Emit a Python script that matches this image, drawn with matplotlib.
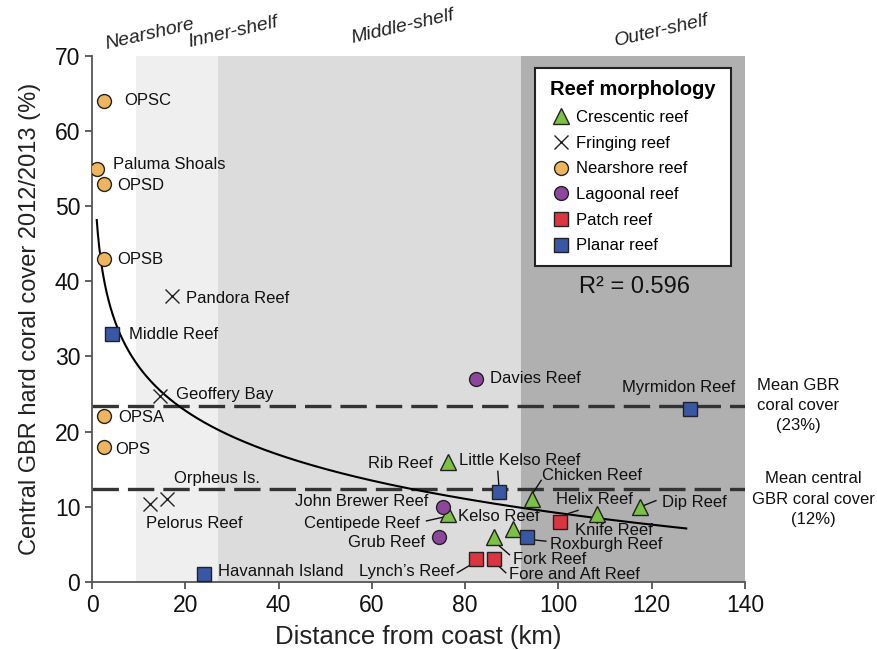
import numpy as np
import matplotlib
matplotlib.use("Agg")
import matplotlib.pyplot as plt

plt.rcParams['font.family'] = ['Liberation Sans', 'DejaVu Sans']
plt.rcParams['lines.scale_dashes'] = False

# ---------------- data ----------------
nearshore_names = ["OPSC", "Paluma Shoals", "OPSD", "OPSB", "OPSA", "OPS"]
nearshore_x = [2.6, 1.1, 2.6, 2.6, 2.6, 2.6]
nearshore_y = [64, 55, 53, 43, 22, 18]

fringing_names = ["Pandora Reef", "Geoffery Bay", "Pelorus Reef", "Orpheus Is."]
fringing_x = [17.1, 14.5, 12.5, 16.1]
fringing_y = [38, 24.7, 10.3, 11.0]

planar_names = ["Middle Reef", "Havannah Island", "Little Kelso Reef", "Roxburgh Reef", "Myrmidon Reef"]
planar_x = [4.2, 24.0, 87.2, 93.2, 128.3]
planar_y = [33, 1, 12, 6, 23]

lagoonal_names = ["Davies Reef", "John Brewer Reef", "Grub Reef"]
lagoonal_x = [82.3, 75.2, 74.3]
lagoonal_y = [27, 10, 6]

crescentic_names = ["Rib Reef", "Chicken Reef", "Centipede Reef", "Kelso Reef", "Fork Reef", "Knife Reef", "Dip Reef"]
crescentic_x = [76.3, 94.3, 76.4, 90.3, 86.2, 108.3, 117.4]
crescentic_y = [16, 11, 9, 7, 6, 9, 10]

patch_names = ["Lynch\u2019s Reef", "Fore and Aft Reef", "Helix Reef"]
patch_x = [82.3, 86.2, 100.3]
patch_y = [3, 3, 8]

mean_gbr = 23.4
mean_central = 12.3
r2_text = "R\u00b2 = 0.596"

# logarithmic trend line y = a + b*ln(x), coefficients
trend_a = 48.15
trend_b = -8.47
trend_xmin, trend_xmax = 1.0, 127.4

zone_names = ["Nearshore", "Inner-shelf", "Middle-shelf", "Outer-shelf"]
zone_edges = [0, 9.5, 27, 92, 140]
zone_colors = ["#ffffff", "#efefef", "#dcdcdc", "#b0b0b0"]
zone_label_x = [12.3, 30.3, 66.6, 122.2]
zone_label_y = [72.9, 73.2, 73.9, 73.4]

# ---------------- figure ----------------
fig = plt.figure(figsize=(8.77, 6.5), dpi=100)
ax = fig.add_axes([0.105, 0.105, 0.7445, 0.809])
ax.set_xlim(0, 140)
ax.set_ylim(0, 70)

for i in range(4):
    ax.axvspan(zone_edges[i], zone_edges[i + 1], color=zone_colors[i], zorder=0, lw=0)

dash_kw = dict(color="#333333", lw=2.4, dashes=(19, 6.5), zorder=2)
ax.axhline(mean_gbr, **dash_kw)
ax.axhline(mean_central, **dash_kw)

xx = np.geomspace(trend_xmin, trend_xmax, 400)
ax.plot(xx, trend_a + trend_b * np.log(xx), color="black", lw=1.5, zorder=3)

ms = 10
edge = "#222222"
ax.plot(crescentic_x, crescentic_y, ls="none", marker="^", ms=ms + 1, mfc="#7dc143", mec=edge, mew=1.0, zorder=5, label="Crescentic reef")
ax.plot(fringing_x, fringing_y, ls="none", marker="x", ms=ms, mec="#222222", mew=1.0, zorder=5, label="Fringing reef")
ax.plot(nearshore_x, nearshore_y, ls="none", marker="o", ms=ms, mfc="#efb55a", mec=edge, mew=1.0, zorder=5, label="Nearshore reef")
ax.plot(lagoonal_x, lagoonal_y, ls="none", marker="o", ms=ms, mfc="#8c479c", mec=edge, mew=1.0, zorder=5, label="Lagoonal reef")
ax.plot(patch_x, patch_y, ls="none", marker="s", ms=ms - 0.5, mfc="#dc3440", mec=edge, mew=1.0, zorder=5, label="Patch reef")
ax.plot(planar_x, planar_y, ls="none", marker="s", ms=ms - 0.5, mfc="#3a57a6", mec=edge, mew=1.0, zorder=5, label="Planar reef")

fs = 12
def lab(t, x, y, ha="left"):
    ax.text(x, y, t, fontsize=fs, ha=ha, va="center", color="#111111", zorder=6)

lab("OPSC", 6.8, 64.1)
lab("Paluma Shoals", 4.5, 55.5)
lab("OPSD", 5.4, 52.7)
lab("OPSB", 5.4, 42.9)
lab("Pandora Reef", 20.2, 37.7)
lab("Middle Reef", 7.9, 32.9)
lab("Geoffery Bay", 17.9, 24.9)
lab("OPSA", 5.6, 21.9)
lab("OPS", 5.0, 17.6)
lab("Orpheus Is.", 17.5, 13.8)
lab("Pelorus Reef", 11.5, 7.8)
lab("Havannah Island", 26.9, 1.3)
lab("Davies Reef", 85.4, 27.0)
lab("Myrmidon Reef", 113.7, 25.9)
lab("Rib Reef", 73.1, 15.7, ha="right")
lab("Little Kelso Reef", 78.7, 16.2)
lab("Chicken Reef", 96.5, 14.1)
lab("John Brewer Reef", 72.0, 10.7, ha="right")
lab("Centipede Reef", 70.2, 7.8, ha="right")
lab("Grub Reef", 71.3, 5.2, ha="right")
lab("Kelso Reef", 78.5, 8.7)
lab("Helix Reef", 99.4, 10.9)
lab("Dip Reef", 122.1, 10.5)
lab("Knife Reef", 103.5, 6.8)
lab("Roxburgh Reef", 98.1, 5.0)
lab("Fork Reef", 90.2, 3.0)
lab("Fore and Aft Reef", 89.5, 1.0)
lab("Lynch\u2019s Reef", 77.7, 1.3, ha="right")

# leader lines (label -> marker)
leaders = [
    ((87.0, 14.7), (87.2, 12.9)),   # Little Kelso
    ((96.3, 13.5), (94.4, 11.7)),   # Chicken
    ((71.7, 8.1), (75.3, 8.6)),     # Centipede
    ((86.7, 5.1), (89.5, 3.6)),     # Fork
    ((94.3, 5.6), (97.3, 5.4)),     # Roxburgh
    ((78.3, 1.2), (81.3, 2.3)),     # Lynch's
    ((87.0, 2.2), (88.7, 1.2)),     # Fore and Aft
    ((102.2, 9.1), (104.2, 9.5)),   # Helix
    ((118.1, 10.1), (120.9, 10.8)), # Dip
]
for (x0, y0), (x1, y1) in leaders:
    ax.plot([x0, x1], [y0, y1], color="#111111", lw=1.0, zorder=4)

ax.text(116.3, 39.3, r2_text, fontsize=17, ha="center", va="center", color="#111111", zorder=6)

for t, x, y in zip(zone_names, zone_label_x, zone_label_y):
    ax.text(x, y, t, fontsize=14, style="italic", rotation=13, ha="center", va="center",
            color="#222222", clip_on=False)

fig.text(798 / 877, 1 - 405.5 / 650, "Mean GBR\ncoral cover\n(23%)", fontsize=12, ha="center", va="center",
         linespacing=1.45, color="#111111")
fig.text(813 / 877, 1 - 499 / 650, "Mean central\nGBR coral cover\n(12%)", fontsize=12, ha="center", va="center",
         linespacing=1.45, color="#111111")

leg = ax.legend(loc="upper left", bbox_to_anchor=(0.679, 0.977, 0.299, 0.0), mode="expand",
                borderaxespad=0, frameon=True,
                fancybox=False, fontsize=12, title="Reef morphology", handletextpad=0.1,
                handlelength=1.6, labelspacing=0.64, borderpad=0.75)
leg.get_title().set_fontweight("bold")
leg.get_title().set_fontsize(14.5)
leg.get_frame().set_edgecolor("#222222")
leg.get_frame().set_linewidth(1.5)
leg.get_frame().set_alpha(1)
leg.set_zorder(7)

for s in ["top", "right"]:
    ax.spines[s].set_visible(False)
for s in ["left", "bottom"]:
    ax.spines[s].set_color("#555555")
    ax.spines[s].set_linewidth(1.3)
ax.set_xticks(range(0, 141, 20))
ax.set_yticks(range(0, 71, 10))
ax.tick_params(direction="out", length=5, width=1.3, color="#555555", labelsize=16.5, labelcolor="#111111")
ax.set_xlabel("Distance from coast (km)", fontsize=18.5, color="#222222", labelpad=6)
ax.set_ylabel("Central GBR hard coral cover 2012/2013 (%)", fontsize=17, color="#222222", labelpad=10)

fig.savefig("out.png", dpi=100)
